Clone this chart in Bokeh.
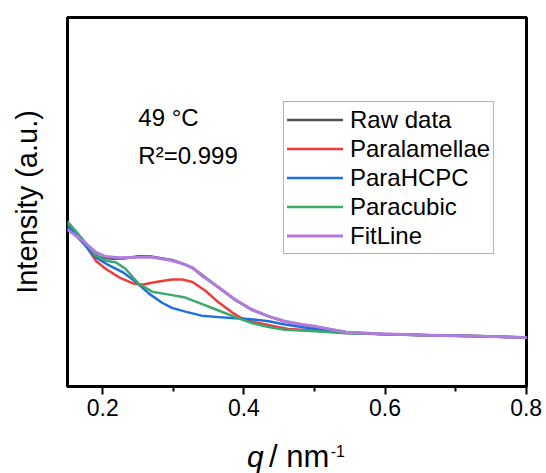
from bokeh.plotting import figure
from bokeh.layouts import column
from bokeh.models import Range1d, FixedTicker, Label, Legend, LegendItem
from bokeh.core.properties import value
from bokeh.embed import file_html
from bokeh.resources import INLINE

# ---- data (q in nm^-1, intensity in arbitrary units) ----
q_raw = [0.150, 0.171, 0.190, 0.195, 0.214, 0.230, 0.251, 0.270, 0.298, 0.317, 0.330, 0.345,
         0.364, 0.388, 0.411, 0.435, 0.458, 0.482, 0.501, 0.545, 0.592, 0.663, 0.734, 0.800]
i_raw = [42.8, 39.3, 35.8, 35.0, 34.6, 34.7, 35.3, 35.2, 34.3, 33.0, 31.8, 29.6,
         26.8, 23.4, 20.9, 19.0, 17.6, 16.7, 16.2, 14.8, 14.2, 13.8, 13.7, 13.2]

q_lam = [0.150, 0.171, 0.190, 0.204, 0.223, 0.242, 0.256, 0.275, 0.298, 0.313, 0.327, 0.345,
         0.364, 0.383, 0.397, 0.416, 0.439, 0.463, 0.501, 0.545, 0.592, 0.663, 0.734, 0.800]
i_lam = [44.1, 39.6, 34.1, 31.9, 29.6, 28.0, 27.6, 28.3, 29.0, 29.0, 28.3, 26.0,
         22.8, 20.1, 18.5, 17.4, 16.5, 15.6, 15.2, 14.5, 14.2, 13.9, 13.6, 13.3]

q_hcpc = [0.150, 0.171, 0.190, 0.209, 0.228, 0.247, 0.266, 0.284, 0.298, 0.317, 0.340,
          0.364, 0.388, 0.411, 0.435, 0.458, 0.501, 0.545, 0.592, 0.663, 0.734, 0.800]
i_hcpc = [43.6, 39.1, 35.0, 32.8, 31.0, 28.3, 25.1, 22.7, 21.3, 20.3, 19.2,
          18.8, 18.5, 18.2, 17.7, 16.8, 15.6, 14.6, 14.2, 13.9, 13.6, 13.3]

q_cub = [0.150, 0.171, 0.190, 0.204, 0.218, 0.232, 0.251, 0.270, 0.294, 0.317, 0.340,
         0.364, 0.388, 0.411, 0.435, 0.458, 0.501, 0.545, 0.592, 0.663, 0.734, 0.800]
i_cub = [44.7, 40.0, 35.5, 34.1, 33.7, 31.9, 27.8, 25.7, 24.9, 24.1, 22.4,
         20.6, 18.8, 17.2, 16.1, 15.4, 15.0, 14.4, 14.2, 13.9, 13.6, 13.3]

q_fit = [0.150, 0.171, 0.190, 0.204, 0.223, 0.251, 0.270, 0.294, 0.313, 0.327, 0.340, 0.364,
         0.388, 0.411, 0.435, 0.458, 0.482, 0.501, 0.545, 0.592, 0.663, 0.734, 0.800]
i_fit = [42.5, 39.6, 36.4, 35.2, 34.9, 35.0, 35.0, 34.3, 33.3, 32.2, 30.1, 26.9,
         23.5, 20.8, 19.0, 17.7, 16.8, 16.3, 14.7, 14.3, 13.9, 13.6, 13.3]

series_names = ["Raw data", "Paralamellae", "ParaHCPC", "Paracubic", "FitLine"]
x_major = [0.2, 0.4, 0.6, 0.8]
x_minor = [0.3, 0.5, 0.7]
x_tick_labels = ["0.2", "0.4", "0.6", "0.8"]

FONT = "Liberation Sans"

p = figure(width=546, height=428,
           min_border_left=67, min_border_right=20, min_border_top=17, min_border_bottom=42,
           x_range=Range1d(0.15, 0.8005), y_range=Range1d(0, 100),
           output_backend="svg", toolbar_location=None)
p.xgrid.visible = False
p.ygrid.visible = False
p.outline_line_color = "black"
p.outline_line_width = 3
p.outline_line_alpha = 1
p.background_fill_color = "white"
p.border_fill_color = "white"

ax = p.xaxis[0]
ax.ticker = FixedTicker(ticks=x_major, minor_ticks=x_minor)
ax.major_label_overrides = {v: s for v, s in zip(x_major, x_tick_labels)}
ax.axis_line_color = "black"
ax.axis_line_width = 3
ax.major_tick_line_color = "black"
ax.major_tick_line_width = 2
ax.major_tick_in = 0
ax.major_tick_out = 8
ax.minor_tick_line_color = "black"
ax.minor_tick_line_width = 2
ax.minor_tick_in = 0
ax.minor_tick_out = 5
ax.major_label_text_font = FONT
ax.major_label_text_font_size = "23px"
ax.major_label_text_color = "black"
ax.major_label_standoff = 4

ay = p.yaxis[0]
ay.ticker = FixedTicker(ticks=[])
ay.axis_line_color = None
ay.major_tick_out = 0
ay.major_tick_in = 0
ay.minor_tick_out = 0
ay.minor_tick_in = 0
ay.major_label_text_font_size = "0px"
ay.bounds = (10, 100)
ay.axis_label = "Intensity (a.u.)"
ay.axis_label_text_font = FONT
ay.axis_label_text_font_size = "29px"
ay.axis_label_text_font_style = "normal"
ay.axis_label_text_color = "black"
ay.axis_label_standoff = 25

colors = ["#505050", "#EE3B3B", "#1F6FE0", "#3AAA6A", "#B07CDE"]
widths = [2.5, 2.5, 2.5, 2.5, 3]
data = [(q_raw, i_raw), (q_lam, i_lam), (q_hcpc, i_hcpc), (q_cub, i_cub), (q_fit, i_fit)]
items = []
for name, (qq, ii), c, w in zip(series_names, data, colors, widths):
    r = p.line(qq, ii, line_color=c, line_width=w, line_join="round", line_cap="round")
    items.append(LegendItem(label=name, renderers=[r]))

legend = Legend(items=items, location=(216, 132), orientation="vertical",
                label_text_font=FONT, label_text_font_size="24px", label_text_color="black",
                glyph_width=56, glyph_height=29, label_height=29, label_standoff=7,
                spacing=0, padding=3, margin=0,
                border_line_color="#666666", border_line_width=1.5,
                background_fill_color="white", background_fill_alpha=1)
p.add_layout(legend)

# annotations inside the frame
p.add_layout(Label(x=0.2504, y=72.8, text="49 °C", text_font=FONT, text_font_size="24px",
                   text_color="black", text_baseline="alphabetic"))
p.add_layout(Label(x=0.2504, y=62.6, text="R²=0.999", text_font=FONT, text_font_size="24px",
                   text_color="black", text_baseline="alphabetic"))

# x axis title strip (italic q, "/ nm", superscript -1), sharing the x scale
p2 = figure(width=546, height=45, x_range=p.x_range, y_range=Range1d(0, 45),
            min_border_left=67, min_border_right=20, min_border_top=0, min_border_bottom=0,
            x_axis_location=None, y_axis_location=None,
            output_backend="svg", toolbar_location=None)
p2.xgrid.visible = False
p2.ygrid.visible = False
p2.outline_line_color = None
p2.background_fill_color = "white"
p2.border_fill_color = "white"
p2.text(x=[0.4044], y=[17], text=["q"], text_font=value(FONT), text_font_size=value("30px"),
        text_font_style="italic", text_color="black", text_baseline="alphabetic")
p2.text(x=[0.4355], y=[17], text=["/ nm"], text_font=value(FONT), text_font_size=value("31px"),
        text_color="black", text_baseline="alphabetic")
p2.text(x=[0.5231], y=[22.5], text=["-1"], text_font=value(FONT), text_font_size=value("16px"),
        text_color="black", text_baseline="alphabetic")

layout = column(p, p2, spacing=0)
open("out.html", "w").write(file_html(layout, INLINE))
